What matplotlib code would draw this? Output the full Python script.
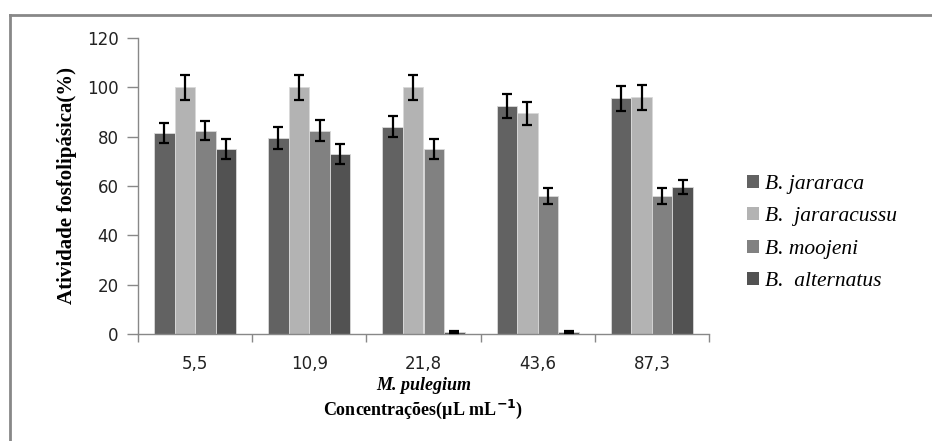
import matplotlib
matplotlib.use("Agg")
import matplotlib.pyplot as plt
import numpy as np
from matplotlib.lines import Line2D

categories = ["5,5", "10,9", "21,8", "43,6", "87,3"]
series = ["B. jararaca", "B.  jararacussu", "B. moojeni", "B.  alternatus"]
jararaca = [81.5, 79.5, 84, 92.5, 95.5]
jararacussu = [100, 100, 100, 89.5, 96]
moojeni = [82.5, 82.5, 75, 56, 56]
alternatus = [75, 73, 1, 1, 59.5]
err_jararaca = [4.2, 4.3, 4.3, 4.8, 5.1]
err_jararacussu = [5.1, 5.1, 5.1, 4.7, 5.0]
err_moojeni = [4.0, 4.3, 3.9, 3.1, 3.1]
err_alternatus = [3.9, 3.9, 0.4, 0.4, 2.9]
yticks = [0, 20, 40, 60, 80, 100, 120]

values = [jararaca, jararacussu, moojeni, alternatus]
errors = [err_jararaca, err_jararacussu, err_moojeni, err_alternatus]
colors = ["#626262", "#b3b3b3", "#818181", "#525252"]

fig = plt.figure(figsize=(9.32, 4.41), dpi=100)
ax = fig.add_axes([138/932, 1-334/441, (709-138)/932, (334-38)/441])

x = np.arange(len(categories))
w = 0.18
for i, (vals, errs, c, name) in enumerate(zip(values, errors, colors, series)):
    pos = x + (i - 1.5) * w
    ax.bar(pos, vals, width=w, color=c, edgecolor="#d9d9d9", linewidth=0.6,
           label=name, zorder=2)
    ax.errorbar(pos, vals, yerr=errs, fmt="none", ecolor="black",
                elinewidth=1.6, capsize=3.6, capthick=1.6, zorder=3)

ax.set_xlim(-0.5, len(categories) - 0.5)
ax.set_ylim(0, 120)
ax.set_yticks(yticks)
ax.set_yticklabels([str(t) for t in yticks], fontsize=12, color="#222222",
                   family="DejaVu Sans")
ax.set_xticks(x)
ax.set_xticklabels(categories, fontsize=12, color="#222222", family="DejaVu Sans")
ax.set_xticks(np.arange(len(categories) + 1) - 0.5, minor=True)
ax.tick_params(axis="x", which="major", length=0, pad=15)
ax.tick_params(axis="x", which="minor", length=6, color="#888888", width=1)
ax.tick_params(axis="y", length=8, color="#888888", width=1, pad=6)

for s in ["top", "right"]:
    ax.spines[s].set_visible(False)
for s in ["left", "bottom"]:
    ax.spines[s].set_color("#888888")
    ax.spines[s].set_linewidth(1)

ax.set_ylabel("Atividade fosfolipásica(%)", family="Liberation Serif",
              fontweight="bold", fontsize=15, labelpad=7)

fig.text(423.5/932, 1-386/441, "M. pulegium", family="Liberation Serif",
         fontweight="bold", style="italic", fontsize=13, ha="center", va="center")
fig.text(423.5/932, 1-409/441, "Concentrações(µL mL$^{\\mathbf{-1}}$)",
         family="Liberation Serif", fontweight="bold", fontsize=13,
         ha="center", va="center")

leg = ax.legend(loc="center left", bbox_to_anchor=(747/932, 1-233/441),
                bbox_transform=fig.transFigure, frameon=False,
                prop={"family": "Liberation Serif", "style": "italic", "size": 15.5},
                handlelength=0.55, handleheight=0.55, handletextpad=0.3,
                labelspacing=0.62, borderpad=0, borderaxespad=0)
for h in leg.legend_handles:
    h.set_edgecolor("none")

# outer chart border (top and left visible)
fig.add_artist(Line2D([10/932, 1], [1-15/441, 1-15/441], transform=fig.transFigure,
                      color="#888888", linewidth=2))
fig.add_artist(Line2D([10/932, 10/932], [0, 1-15/441], transform=fig.transFigure,
                      color="#888888", linewidth=2))

fig.savefig("out.png", dpi=100)
